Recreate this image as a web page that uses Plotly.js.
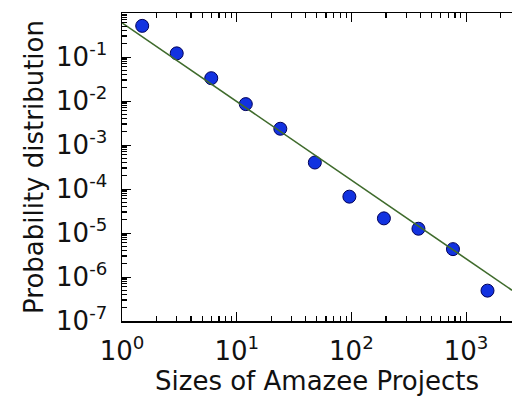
<!DOCTYPE html>
<html>
<head>
<meta charset="utf-8">
<script src="https://cdn.plot.ly/plotly-3.0.1.min.js"></script>
<style>html,body{margin:0;padding:0;background:#fff;}#chart{width:512px;height:396px;}</style>
</head>
<body>
<div id="chart"></div>
<script>
const sizes = [1.5, 3, 6, 12, 24, 48, 96, 192, 384, 768, 1536];
const probs = [0.51, 0.121, 0.033, 0.0085, 0.00234, 0.00040, 6.7e-5, 2.15e-5, 1.25e-5, 4.3e-6, 4.9e-7];
// Fitted power-law line, endpoints
const fitX = [1, 2512];
const fitY = [0.596, 5.0e-7];
// Tick labels
const xTickVals = [1, 10, 100, 1000];
const xTickText = ['10<sup>0</sup>', '10<sup>1</sup>', '10<sup>2</sup>', '10<sup>3</sup>'];
const yTickVals = [1, 0.1, 0.01, 0.001, 1e-4, 1e-5, 1e-6, 1e-7];
const yTickText = ['10<sup>0</sup>', '10<sup>-1</sup>', '10<sup>-2</sup>', '10<sup>-3</sup>', '10<sup>-4</sup>', '10<sup>-5</sup>', '10<sup>-6</sup>', '10<sup>-7</sup>'];
// Minor tick multipliers within each decade
const minorMult = [2, 3, 4, 5, 6, 7, 8, 9];

const xMinor = [];
xTickVals.forEach(d => minorMult.forEach(m => xMinor.push(d * m)));
const yMinor = [];
yTickVals.forEach(d => minorMult.forEach(m => yMinor.push(d * m)));

const FAM = 'DejaVu Sans, sans-serif';

const traces = [
  {
    x: sizes, y: probs, type: 'scatter', mode: 'markers',
    marker: {color: '#1232e0', size: 13, line: {color: '#00005a', width: 1}},
    cliponaxis: false, showlegend: false
  },
  {
    x: fitX, y: fitY, type: 'scatter', mode: 'lines',
    line: {color: '#3f6b2c', width: 1.6}, showlegend: false
  },
  {
    x: [sizes[0]], y: [probs[0]], xaxis: 'x2', yaxis: 'y2', type: 'scatter', mode: 'markers',
    marker: {opacity: 0}, hoverinfo: 'skip', showlegend: false
  }
];

const layout = {
  width: 512, height: 396,
  margin: {l: 122, r: 0, t: 13, b: 75},
  paper_bgcolor: '#ffffff', plot_bgcolor: '#ffffff',
  font: {family: FAM, size: 26, color: '#111'},
  xaxis: {
    type: 'log', range: [0, 3.40],
    tickvals: xTickVals, ticktext: xTickText,
    ticks: 'inside', ticklen: 9, tickwidth: 1, tickcolor: '#000',
    showline: true, linecolor: '#000', linewidth: 1.5, mirror: 'ticks',
    showgrid: false, zeroline: false, ticklabelstandoff: 6,
    tickfont: {family: FAM, size: 26, color: '#111'},
    title: {text: 'Sizes of Amazee Projects', font: {family: FAM, size: 26, color: '#111'}, standoff: 9}
  },
  xaxis2: {
    type: 'log', range: [0, 3.40], overlaying: 'x', side: 'bottom',
    tickvals: xMinor, ticks: 'inside', ticklen: 5, tickwidth: 1.2, tickcolor: '#000',
    showticklabels: false, showline: false, mirror: 'ticks', showgrid: false, zeroline: false
  },
  yaxis: {
    type: 'log', range: [-7, 0],
    tickvals: yTickVals, ticktext: yTickText,
    ticks: 'inside', ticklen: 9, tickwidth: 1, tickcolor: '#000',
    showline: true, linecolor: '#000', linewidth: 1.5, mirror: false,
    showgrid: false, zeroline: false, ticklabelstandoff: 8,
    tickfont: {family: FAM, size: 26, color: '#111'},
    title: {text: 'Probability distribution', font: {family: FAM, size: 26, color: '#111'}, standoff: 5}
  },
  yaxis2: {
    type: 'log', range: [-7, 0], overlaying: 'y', side: 'left',
    tickvals: yMinor, ticks: 'inside', ticklen: 5, tickwidth: 1.2, tickcolor: '#000',
    showticklabels: false, showline: false, showgrid: false, zeroline: false
  }
};

Plotly.newPlot('chart', traces, layout, {staticPlot: true, displayModeBar: false});
</script>
</body>
</html>
